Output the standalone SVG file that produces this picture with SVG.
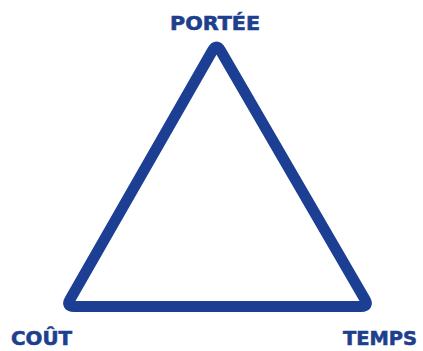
<svg xmlns="http://www.w3.org/2000/svg" width="423" height="351" viewBox="0 0 423 351">
<style>
.lbl{font-family:"DejaVu Sans","Liberation Sans",sans-serif;font-weight:bold;font-size:19px;fill:#1e3f8e;stroke:#1e3f8e;stroke-width:0.6}
.edge{fill:none;stroke:#1c3f94;stroke-width:11;stroke-linejoin:round;stroke-linecap:round}
</style>
<rect width="423" height="351" fill="#ffffff"/>
<g id="connectors">
<path class="edge" d="M212.5,50.4 Q216.5,43.5 220.5,50.4 L365,299.6 Q369,306.5 361,306.5 L74,306.5 Q66,306.5 70,299.6 Z"/>
</g>
<g id="portee"><text class="lbl" x="170" y="30" textLength="90" lengthAdjust="spacingAndGlyphs">PORTÉE</text></g>
<g id="cout"><text class="lbl" x="11" y="345" textLength="61" lengthAdjust="spacingAndGlyphs">COÛT</text></g>
<g id="temps"><text class="lbl" x="343" y="345" textLength="74" lengthAdjust="spacingAndGlyphs">TEMPS</text></g>
</svg>
